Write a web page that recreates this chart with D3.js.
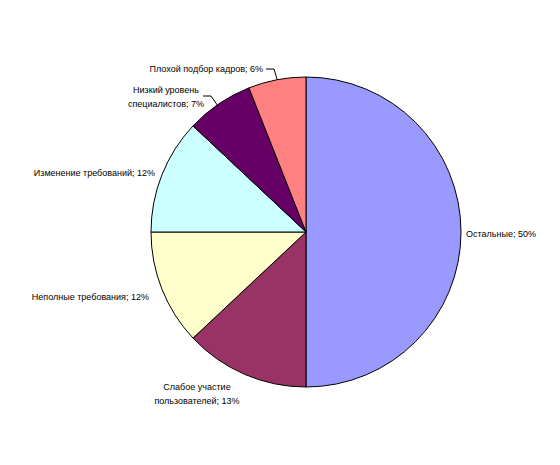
<!DOCTYPE html>
<html><head><meta charset="utf-8">
<script src="https://cdn.jsdelivr.net/npm/d3@7"></script>
<style>body{margin:0;background:#fff}text{font-family:"Liberation Sans",Arial,sans-serif;font-size:9px;fill:#000}</style>
</head><body><svg id="c" width="560" height="465"></svg>
<script>
// Slices, clockwise from 12 o'clock
const labels = ['Остальные', 'Слабое участие пользователей', 'Неполные требования',
  'Изменение требований', 'Низкий уровень специалистов', 'Плохой подбор кадров'];
const values = [50, 13, 12, 12, 7, 6];
const colors = ['#9999ff', '#993366', '#ffffcc', '#ccffff', '#660066', '#ff8080'];

// label layout: text lines, anchor point, anchor type
const labelLayout = [
  {lines: ['Остальные; 50%'], x: 466, y: 237, anchor: 'start'},
  {lines: ['Слабое участие', 'пользователей; 13%'], x: 197, y: 390, anchor: 'middle'},
  {lines: ['Неполные требования; 12%'], x: 149, y: 300, anchor: 'end'},
  {lines: ['Изменение требований; 12%'], x: 155, y: 176, anchor: 'end'},
  {lines: ['Низкий уровень', 'специалистов; 7%'], x: 166, y: 93, anchor: 'middle', leader: [[203, 96], [211, 96], [218, 106]]},
  {lines: ['Плохой подбор кадров; 6%'], x: 263, y: 72, anchor: 'end', leader: [[266, 69], [274, 69], [277, 79]]}
];

const cx = 306, cy = 232, r = 155;
const svg = d3.select('#c');
const g = svg.append('g').attr('transform', `translate(${cx},${cy})`);
const pie = d3.pie().sort(null).value(d => d);
const arc = d3.arc().innerRadius(0).outerRadius(r);

g.selectAll('path').data(pie(values)).join('path')
  .attr('d', arc)
  .attr('fill', (d, i) => colors[i])
  .attr('stroke', '#000').attr('stroke-width', 1);

labelLayout.forEach(l => {
  const t = svg.append('text').attr('text-anchor', l.anchor);
  l.lines.forEach((s, k) => t.append('tspan').attr('x', l.x).attr('y', l.y + k * 14).text(s));
  if (l.leader) {
    svg.append('path').attr('d', d3.line()(l.leader))
      .attr('fill', 'none').attr('stroke', '#000').attr('stroke-width', 1);
  }
});
</script></body></html>
